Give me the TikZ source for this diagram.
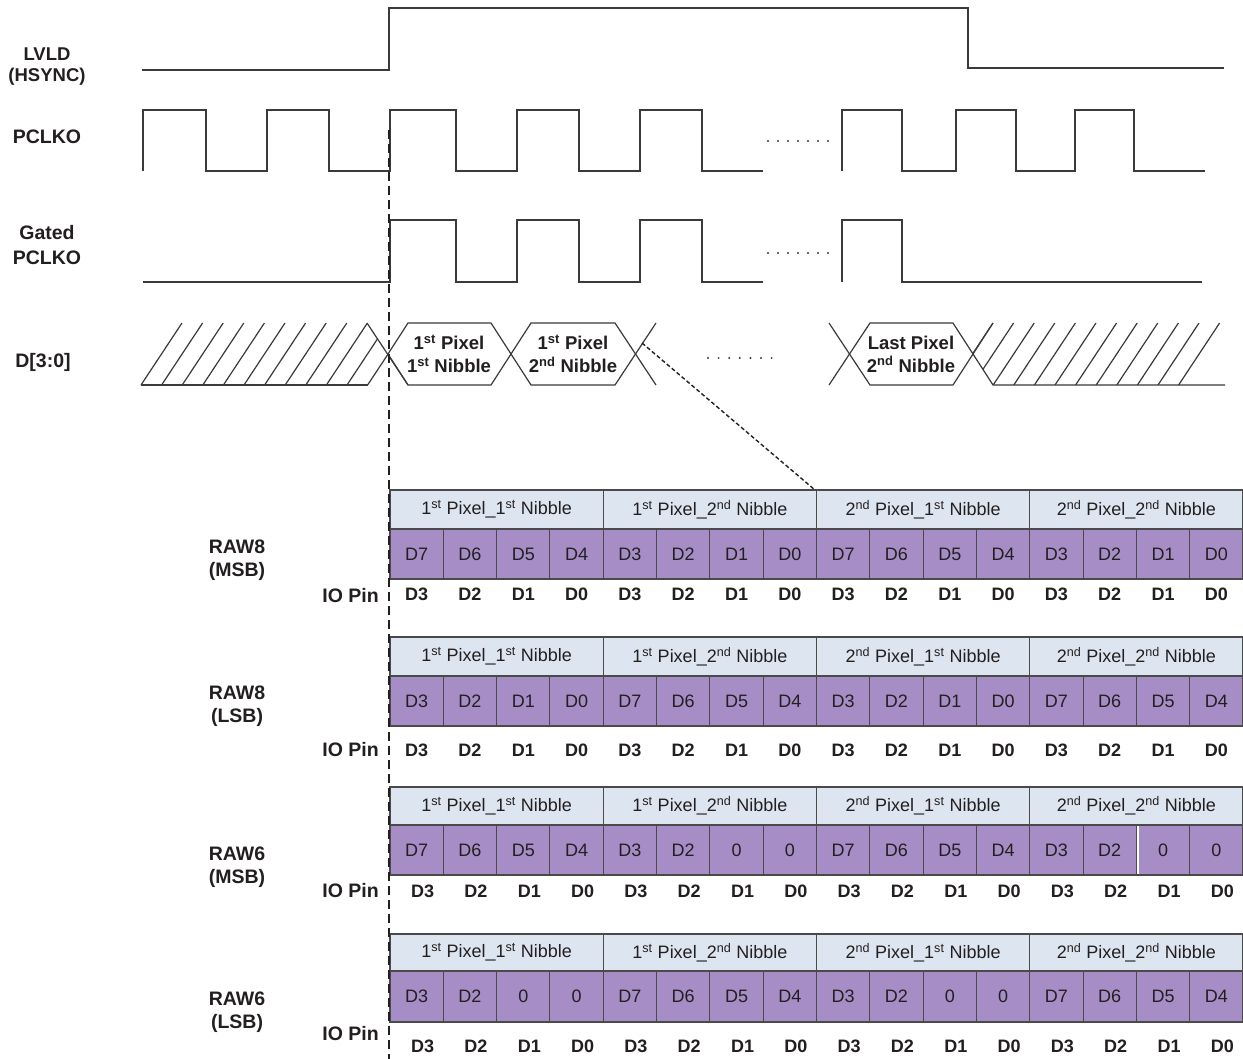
\documentclass[tikz,border=0pt]{standalone}
\usepackage{fontspec}
\setmainfont{Liberation Sans}
\definecolor{ink}{HTML}{231F20}
\definecolor{wave}{HTML}{3A3A3A}
\definecolor{hdr}{HTML}{DDE5F0}
\definecolor{purp}{HTML}{A78DC6}
\definecolor{gridc}{HTML}{4A4A4A}
\newcommand{\sps}[1]{\textsuperscript{#1}}
\newcommand{\drawblock}[7]{%
  % #1 top, #2 mid, #3 bottom, #4 io y, #5 io shift, #6 cells, #7 name
  \fill[hdr] (390,#1) rectangle (1243,#2);
  \fill[purp] (390,#2) rectangle (1243,#3);
  \draw[gridc, line width=1.1pt] (390,#1) rectangle (1242.5,#3);
  \draw[gridc, line width=1.1pt] (390,#2) -- (1242.5,#2);
  \foreach \k in {4,8,12} {\draw[gridc, line width=1.1pt] ({390+53.3125*\k},#1) -- ({390+53.3125*\k},#2);}
  \foreach \k in {1,...,15} {\draw[gridc, line width=1.1pt] ({390+53.3125*\k},#2) -- ({390+53.3125*\k},#3);}
  \foreach \t [count=\i from 0] in {1\sps{st} Pixel\_1\sps{st} Nibble,1\sps{st} Pixel\_2\sps{nd} Nibble,2\sps{nd} Pixel\_1\sps{st} Nibble,2\sps{nd} Pixel\_2\sps{nd} Nibble}
    {\node[celltxt] (#7h\i) at ({390+213.25*(\i+0.5)},{(#1+#2)/2}) {\t};}
  \foreach \t [count=\i from 0] in {#6}
    {\node[celltxt] (#7c\i) at ({390+53.3125*(\i+0.5)},{(#2+#3)/2}) {\t};}
  \foreach \t [count=\i from 0] in {D3,D2,D1,D0,D3,D2,D1,D0,D3,D2,D1,D0,D3,D2,D1,D0}
    {\node[iotxt] (#7p\i) at ({390+53.3125*(\i+0.5)+#5},#4) {\t};}
}
\begin{document}
\begin{tikzpicture}[x=1pt,y=-1pt,
  lbl/.style={font=\bfseries\fontsize{19.5}{23}\selectfont, text=ink, align=center, inner sep=0pt},
  celltxt/.style={font=\fontsize{18}{22}\selectfont, text=ink, inner sep=0pt},
  iotxt/.style={font=\bfseries\fontsize{18}{22}\selectfont, text=ink, inner sep=0pt},
  hextxt/.style={font=\bfseries\fontsize{18.5}{23}\selectfont, text=ink, align=center, inner sep=0pt},
  wv/.style={wave, line width=1.4pt},
  dotc/.style={fill=wave, draw=none}]
\useasboundingbox (0,0) rectangle (1243,1059);
\fill[white] (0,0) rectangle (1243,1059);

% signal labels
\node[lbl, font=\bfseries\fontsize{18.5}{21}\selectfont] (lvld) at (47,67) {LVLD\\(HSYNC)};
\node[lbl] (pclko) at (47,137) {PCLKO};
\node[lbl, font=\bfseries\fontsize{19.5}{25}\selectfont] (gated) at (47,245) {Gated\\PCLKO};
\node[lbl] (dbus) at (43,362) {D[3:0]};

% LVLD
\draw[wv] (142,70) -- (389,70) -- (389,8) -- (968,8) -- (968,68) -- (1224,68);
% PCLKO
\draw[wv] (143,171) -- (143,110) -- (206,110) -- (206,171) -- (267,171) -- (267,110) -- (329,110) -- (329,171) -- (390,171) -- (390,110) -- (456,110) -- (456,171) -- (517,171) -- (517,110) -- (579,110) -- (579,171) -- (640,171) -- (640,110) -- (702,110) -- (702,171) -- (763,171);
\draw[wv] (842,171) -- (842,110) -- (902,110) -- (902,171) -- (956,171) -- (956,110) -- (1016,110) -- (1016,171) -- (1075,171) -- (1075,110) -- (1134,110) -- (1134,171) -- (1205,171);
% Gated PCLKO
\draw[wv] (143,282) -- (390,282) -- (390,220) -- (456,220) -- (456,282) -- (517,282) -- (517,220) -- (579,220) -- (579,282) -- (640,282) -- (640,220) -- (702,220) -- (702,282) -- (763,282);
\draw[wv] (842,282) -- (842,220) -- (902,220) -- (902,282) -- (1202,282);
% dots
\foreach \i in {0,...,6} {
  \fill[dotc] ({768+10*\i},141) circle (1.1);
  \fill[dotc] ({768+10*\i},253) circle (1.1);
  \fill[dotc] ({708+10.6*\i},358) circle (1.1);
}

% D[3:0] bus
\begin{scope}
  \clip (100,323) -- (367,323) -- (408,385) -- (100,385) -- cycle;
  \foreach \k in {0,...,11} {\draw[wv, line width=1.2pt] ({141+20.6*\k},385) -- ({182+20.6*\k},323);}
\end{scope}
\draw[wv, line width=1.2pt] (141,385) -- (368,385);
\draw[wv, line width=1.2pt] (367,323) -- (408,385);
\draw[wv, line width=1.2pt] (388,354) -- (408,323) -- (491,323) -- (531,385) -- (615,385) -- (656,323);
\draw[wv, line width=1.2pt] (388,354) -- (408,385) -- (491,385) -- (531,323) -- (615,323) -- (656,385);
\node[hextxt] (hexa) at (449,354) {1\sps{st} Pixel\\1\sps{st} Nibble};
\node[hextxt] (hexb) at (573,354) {1\sps{st} Pixel\\2\sps{nd} Nibble};

\draw[wv, line width=1.2pt] (829,323) -- (870,385) -- (953,385) -- (993,323);
\draw[wv, line width=1.2pt] (829,385) -- (870,323) -- (953,323) -- (993,385) -- (1225,385);
\begin{scope}
  \clip (953,323) -- (1240,323) -- (1240,385) -- (993,385) -- cycle;
  \foreach \k in {0,...,11} {\draw[wv, line width=1.2pt] ({993+20.6*\k},323) -- ({952+20.6*\k},385);}
\end{scope}
\node[hextxt] (hexc) at (911,354) {Last Pixel\\2\sps{nd} Nibble};

% tables
\drawblock{490}{529}{579}{594}{0}{D7,D6,D5,D4,D3,D2,D1,D0,D7,D6,D5,D4,D3,D2,D1,D0}{ba}
\drawblock{637}{676}{726}{750}{0}{D3,D2,D1,D0,D7,D6,D5,D4,D3,D2,D1,D0,D7,D6,D5,D4}{bb}
\drawblock{787}{825}{875}{891}{6}{D7,D6,D5,D4,D3,D2,0,0,D7,D6,D5,D4,D3,D2,0,0}{bc}
\drawblock{934}{971}{1022}{1046}{6}{D3,D2,0,0,D7,D6,D5,D4,D3,D2,0,0,D7,D6,D5,D4}{bd}
\draw[white, line width=2pt] (1137.5,826) -- (1137.5,874);

% row labels
\node[lbl] (r1) at (237,560) {RAW8\\(MSB)};
\node[lbl] (r2) at (237,706) {RAW8\\(LSB)};
\node[lbl] (r3) at (237,867) {RAW6\\(MSB)};
\node[lbl] (r4) at (237,1012) {RAW6\\(LSB)};
\node[lbl, anchor=east] (io1) at (379,596) {IO Pin};
\node[lbl, anchor=east] (io2) at (379,750) {IO Pin};
\node[lbl, anchor=east] (io3) at (379,891) {IO Pin};
\node[lbl, anchor=east] (io4) at (379,1034) {IO Pin};

% dashed guides
\coordinate (vtop) at (389,130);
\coordinate (vbot) at (389,1059);
\draw[ink, line width=1.6pt, dash pattern=on 9pt off 5pt] (vtop) -- (vbot);
\coordinate (dstart) at (642,343);
\coordinate (dend) at (815,490);
\draw[ink, line width=1.4pt, dash pattern=on 4pt off 2.5pt] (dstart) -- (dend);
\end{tikzpicture}
\end{document}
